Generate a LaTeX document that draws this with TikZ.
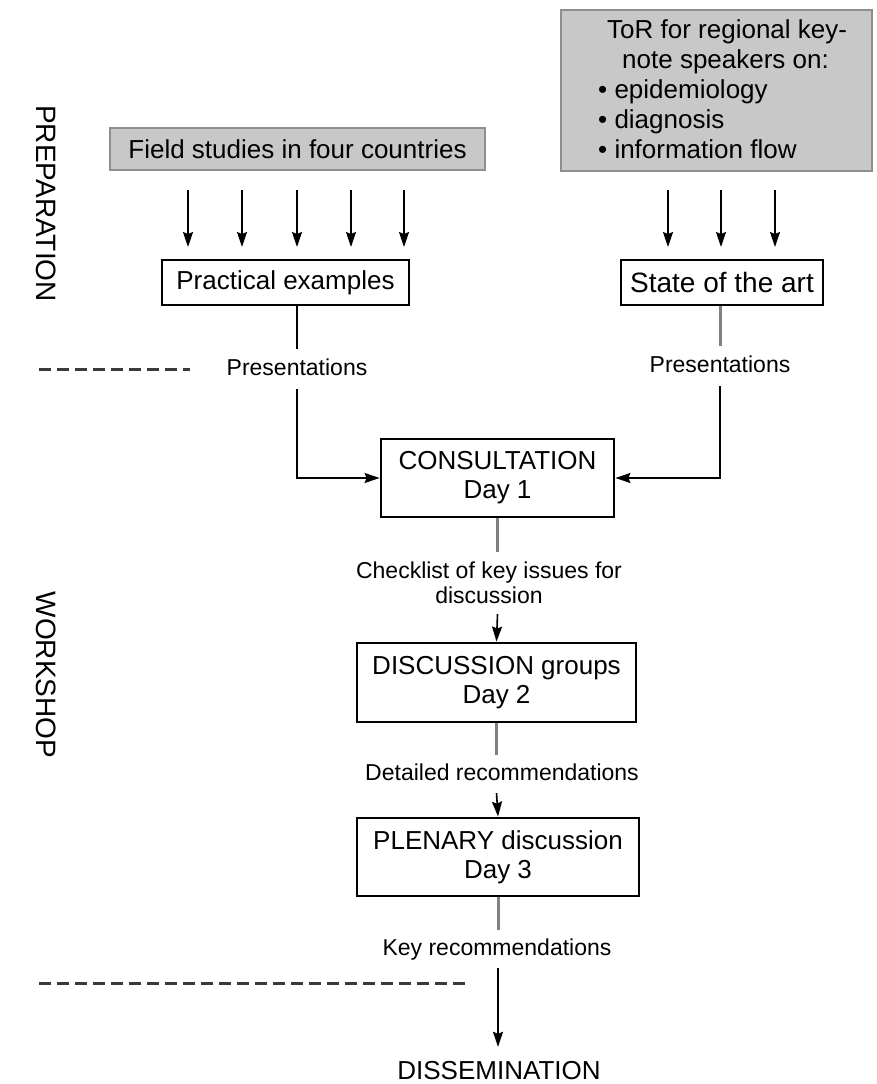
\documentclass[tikz,border=0pt]{standalone}
\usepackage{fontspec}
\setmainfont{Liberation Sans}
\usetikzlibrary{arrows.meta}
\definecolor{boxgray}{HTML}{C8C8C8}
\definecolor{boxedge}{HTML}{8E8E8E}
\definecolor{linegray}{HTML}{808080}
\definecolor{dashgray}{HTML}{3A3A3A}
\tikzset{
  graybox/.style={draw=boxedge, fill=boxgray, line width=1.5pt, inner sep=0pt},
  whitebox/.style={draw=black, line width=2.8pt, fill=white, align=center, inner sep=0pt,
    font=\fontsize{26}{29}\selectfont},
  lab/.style={font=\fontsize{23}{25}\selectfont, align=center, inner xsep=4pt, inner ysep=9pt,
    text height=17pt, text depth=5pt, anchor=base},
  arr/.style={line width=1.6pt, -{Stealth[length=15pt,width=10pt,inset=2pt]}},
  bline/.style={line width=1.6pt},
  gline/.style={line width=3pt, draw=linegray},
  dline/.style={line width=3pt, draw=dashgray, dash pattern=on 12pt off 6pt},
  side/.style={rotate=-90, font=\fontsize{28}{30}\selectfont, inner sep=0pt}
}
\begin{document}
\begin{tikzpicture}[x=1pt,y=-1pt]
\useasboundingbox[fill=white] (0,0) rectangle (877,1084);

% side titles
\node[side] (prep) at (46,203.5) {PREPARATION};
\node[side] (work) at (46,675) {WORKSHOP};

% dashed separators
\coordinate (d1a) at (39,369);
\coordinate (d1b) at (190,369);
\coordinate (d2a) at (39,983);
\coordinate (d2b) at (470,983);
\draw[dline] (d1a) -- (d1b);
\draw[dline] (d2a) -- (d2b);

% gray input boxes
\node[graybox, minimum width=375pt, minimum height=42pt, font=\fontsize{26}{29}\selectfont] (field) at (297.5,149) {Field studies in four countries};
\node[graybox, minimum width=311pt, minimum height=161pt] (tor) at (716.5,90.5) {};
\node[anchor=west, align=left, inner sep=0pt, font=\fontsize{26}{30}\selectfont] (tortext) at (598,89.5)
  {\hspace*{9pt}ToR for regional key-\\
   \hspace*{24pt}note speakers on:\\
   • epidemiology\\
   • diagnosis\\
   • information flow};

% preparation boxes
\node[whitebox, minimum width=247pt, minimum height=45pt] (prac) at (285.5,282.5) {Practical examples};
\node[whitebox, minimum width=202pt, minimum height=45pt, font=\fontsize{28}{30}\selectfont] (state) at (722,282.5) {State of the art};

% input arrows
\foreach \i/\x in {1/188,2/242,3/297,4/351,5/404}{
  \coordinate (fa\i) at (\x,190);
  \coordinate (fb\i) at (\x,247);
  \draw[arr] (fa\i) -- (fb\i);
}
\foreach \i/\x in {1/668,2/721,3/775}{
  \coordinate (ta\i) at (\x,190);
  \coordinate (tb\i) at (\x,247);
  \draw[arr] (ta\i) -- (tb\i);
}

% workshop boxes
\node[whitebox, minimum width=233pt, minimum height=78pt] (cons) at (497.5,478) {CONSULTATION\\Day 1};
\node[whitebox, minimum width=279pt, minimum height=79pt] (disc) at (496.5,682.5) {DISCUSSION groups\\Day 2};
\node[whitebox, minimum width=282pt, minimum height=78pt] (plen) at (498,857) {PLENARY discussion\\Day 3};

% labels
\node[lab] (presL) at (297,375) {Presentations};
\node[lab] (presR) at (720,372) {Presentations};
\node[font=\fontsize{23}{25}\selectfont, align=center, inner xsep=4pt, inner ysep=10pt] (chk) at (489,583) {Checklist of key issues for\\discussion};
\node[lab, inner ysep=8pt] (det) at (502,780) {Detailed recommendations};
\node[lab, inner ysep=8pt] (key) at (497,955) {Key recommendations};
\node[lab, font=\fontsize{26}{29}\selectfont, text height=19pt, text depth=0pt, inner ysep=13pt] (dis) at (499,1079) {DISSEMINATION};

% connectors
\draw[bline] (prac.south -| presL) -- (presL.north);
\draw[arr] (presL.south) |- (cons.west);
\draw[gline] (state.south -| presR) -- (presR.north);
\draw[arr] (presR.south) |- (cons.east);

\draw[gline] (cons.south) -- (cons.south |- chk.north);
\draw[arr] (cons.south |- chk.south) -- (disc.north);
\draw[gline] (disc.south) -- (disc.south |- det.north);
\draw[arr] (disc.south |- det.south) -- (plen.north);
\draw[gline] (plen.south) -- (plen.south |- key.north);
\draw[arr] (plen.south |- key.south) -- (plen.south |- dis.north);
\end{tikzpicture}
\end{document}
